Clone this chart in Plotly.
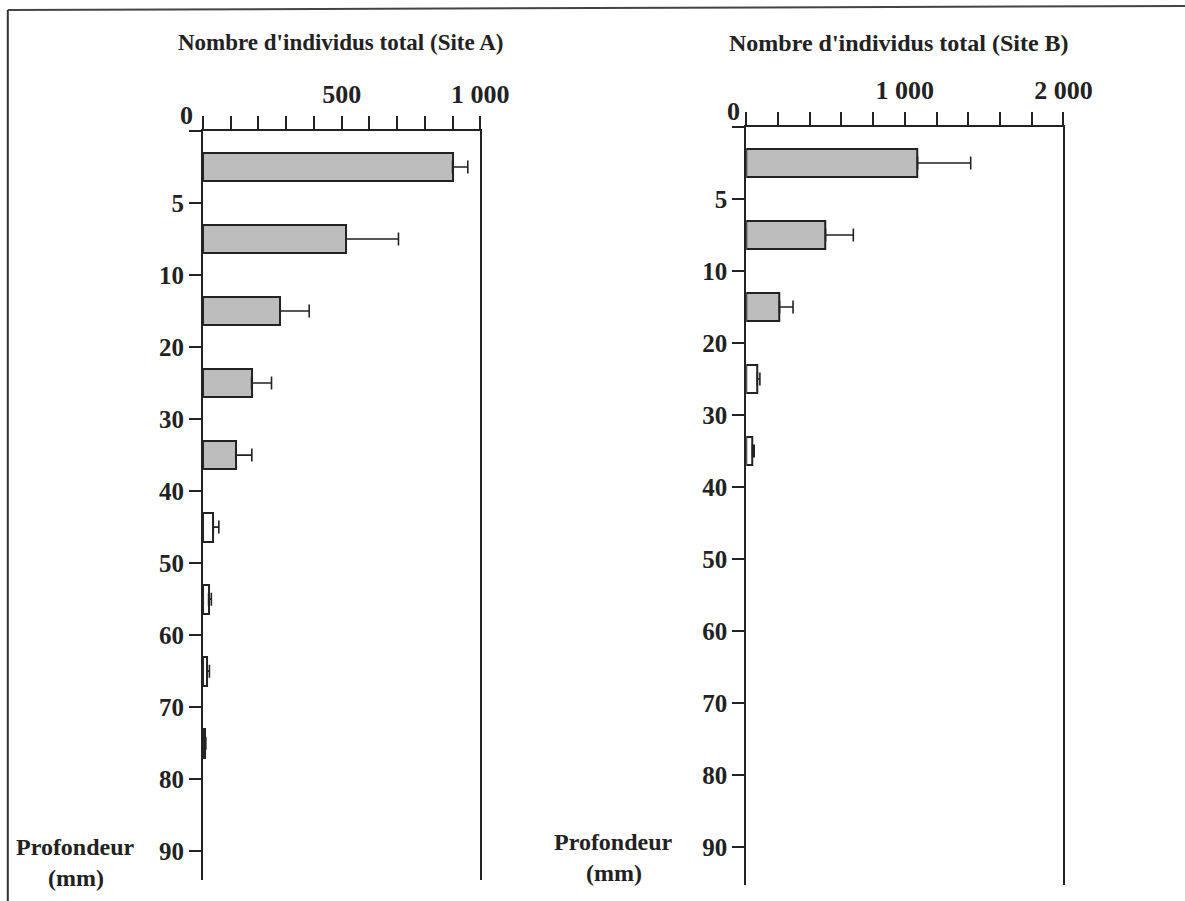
import plotly.graph_objects as go

# Depth layer boundaries (mm); each layer is drawn as one band on the depth axis
depth_bounds = [0, 5, 10, 20, 30, 40, 50, 60, 70, 80, 90]

# Total number of individuals per layer, with standard error (Site A)
site_a_values = [900, 515, 278, 175, 118, 37, 20, 15, 8]
site_a_errors = [55, 190, 105, 72, 58, 20, 10, 8, 2]

# Total number of individuals per layer, with standard error (Site B)
site_b_values = [1080, 500, 210, 70, 40]
site_b_errors = [335, 175, 85, 16, 10]

# Count-axis ticks and labels
site_a_ticks = list(range(0, 1001, 100))
site_a_ticklabels = {500: "500", 1000: "1 000"}
site_b_ticks = list(range(0, 2001, 200))
site_b_ticklabels = {1000: "1 000", 2000: "2 000"}

GRAY = "#bdbdbd"
INK = "#222222"
FONT = "Liberation Serif, Times New Roman, serif"
W, H = 1215, 901


def px(x):
    """Horizontal layout position (paper fraction) from a pixel column."""
    return x / W


def py(y):
    """Vertical layout position (paper fraction) from a pixel row."""
    return 1 - y / H


def band_centres(n):
    return [i + 0.5 for i in range(n)]


def fills(n, n_gray):
    return [GRAY if i < n_gray else "white" for i in range(n)]


fig = go.Figure()

fig.add_trace(go.Bar(
    x=site_a_values, y=band_centres(len(site_a_values)), orientation="h",
    width=0.4, marker=dict(color=fills(len(site_a_values), 5),
                           line=dict(color=INK, width=2)),
    error_x=dict(type="data", array=site_a_errors, symmetric=False,
                 arrayminus=[0] * len(site_a_errors), color=INK,
                 thickness=1.6, width=6.5),
    xaxis="x", yaxis="y", showlegend=False,
))

fig.add_trace(go.Bar(
    x=site_b_values, y=band_centres(len(site_b_values)), orientation="h",
    width=0.4, marker=dict(color=fills(len(site_b_values), 3),
                           line=dict(color=INK, width=2)),
    error_x=dict(type="data", array=site_b_errors, symmetric=False,
                 arrayminus=[0] * len(site_b_errors), color=INK,
                 thickness=1.6, width=6.5),
    xaxis="x2", yaxis="y2", showlegend=False,
))

count_font = dict(family=FONT, size=26, color=INK, weight="bold")
depth_font = dict(family=FONT, size=25, color=INK, weight="bold")
depth_ticktext = [""] + [str(d) for d in depth_bounds[1:]]
depth_tickvals = list(range(len(depth_bounds)))


def count_axis(domain, anchor, ticks, labels):
    return dict(
        domain=domain, anchor=anchor, side="top", range=[0, ticks[-1]],
        tickvals=ticks, ticktext=[labels.get(t, "") for t in ticks],
        ticks="outside", ticklen=13, tickwidth=1.6, tickcolor=INK,
        showline=True, linecolor=INK, linewidth=2, showgrid=False,
        zeroline=False, tickfont=count_font, ticklabelstandoff=3,
    )


def depth_axis(domain, anchor, bottom):
    return dict(
        domain=domain, anchor=anchor, range=[bottom, 0],
        tickvals=depth_tickvals, ticktext=depth_ticktext,
        ticks="outside", ticklen=12, tickwidth=1.6, tickcolor=INK,
        showline=True, linecolor=INK, linewidth=2, mirror=True,
        showgrid=False, zeroline=False, tickfont=depth_font,
    )


fig.update_layout(
    width=W, height=H, autosize=False, margin=dict(l=0, r=0, t=0, b=0),
    paper_bgcolor="white", plot_bgcolor="white", bargap=0,
    xaxis=count_axis([px(208), px(492)], "y", site_a_ticks, site_a_ticklabels),
    yaxis=depth_axis([py(880), py(131)], "x", 10.4),
    xaxis2=count_axis([px(764.5), px(1089.5)], "y2", site_b_ticks, site_b_ticklabels),
    yaxis2=depth_axis([py(885), py(127)], "x2", 10.53),
)

label_font = dict(family=FONT, size=24, color=INK, weight="bold")

annotations = [
    dict(text="Nombre d'individus total (Site A)", x=px(349), y=py(43),
         font=dict(family=FONT, size=23, color=INK, weight="bold")),
    dict(text="Nombre d'individus total (Site B)", x=px(921), y=py(43),
         font=dict(family=FONT, size=24, color=INK, weight="bold")),
    dict(text="Profondeur", x=px(77.5), y=py(847), font=label_font),
    dict(text="(mm)", x=px(78), y=py(878), font=label_font),
    dict(text="Profondeur", x=px(629), y=py(842), font=label_font),
    dict(text="(mm)", x=px(629), y=py(873), font=label_font),
    # origin label sitting at the corner of each panel
    dict(text="0", x=px(191), y=py(115), font=count_font),
    dict(text="0", x=px(751), y=py(112), font=count_font),
]
for a in annotations:
    a.update(xref="paper", yref="paper", showarrow=False,
             xanchor="center", yanchor="middle")
fig.update_layout(annotations=annotations)

# Outer frame: left and top edges
fig.update_layout(shapes=[
    dict(type="line", xref="paper", yref="paper", x0=px(8), x1=px(8),
         y0=0, y1=py(10), line=dict(color="#333333", width=2)),
    dict(type="line", xref="paper", yref="paper", x0=px(8), x1=1,
         y0=py(10), y1=py(6), line=dict(color="#444444", width=2)),
])

fig.write_html("out.html")
